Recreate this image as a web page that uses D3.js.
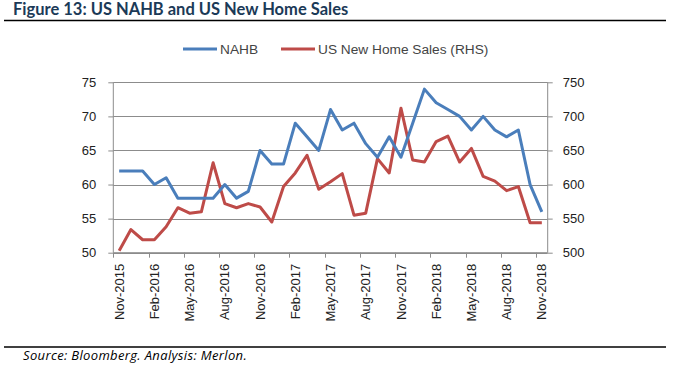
<!DOCTYPE html>
<html>
<head>
<meta charset="utf-8">
<script src="https://cdn.jsdelivr.net/npm/d3@7"></script>
<style>
	body { margin: 0; background: #fff; }
	svg { display: block; }
	.tick text { font-family: "Liberation Sans", Arial, sans-serif; font-size: 13px; fill: #222; }
</style>
</head>
<body>
<svg id="chart"></svg>
<script>
const width = 683;
const height = 370;

// Monthly categories, Nov-2015 .. Nov-2018
const months = ["Nov-2015", "Dec-2015", "Jan-2016", "Feb-2016", "Mar-2016", "Apr-2016", "May-2016", "Jun-2016", "Jul-2016",
	"Aug-2016", "Sep-2016", "Oct-2016", "Nov-2016", "Dec-2016", "Jan-2017", "Feb-2017", "Mar-2017", "Apr-2017",
	"May-2017", "Jun-2017", "Jul-2017", "Aug-2017", "Sep-2017", "Oct-2017", "Nov-2017", "Dec-2017", "Jan-2018",
	"Feb-2018", "Mar-2018", "Apr-2018", "May-2018", "Jun-2018", "Jul-2018", "Aug-2018", "Sep-2018", "Oct-2018", "Nov-2018"];

const nahb = [62, 62, 62, 60, 61, 58, 58, 58, 58, 60, 58, 59, 65, 63, 63, 69, 67, 65, 71, 68, 69, 66, 64, 67, 64,
	69, 74, 72, 71, 70, 68, 70, 68, 67, 68, 60, 56];

const newHomeSales = [503, 534, 519, 519, 538, 566, 558, 560, 632, 572, 566, 572, 567, 545, 597, 617, 643, 593, 604,
	616, 555, 558, 638, 617, 712, 636, 633, 663, 671, 633, 653, 612, 605, 591, 597, 544, 544];

const leftTicks = [50, 55, 60, 65, 70, 75];
const rightTicks = [500, 550, 600, 650, 700, 750];

const seriesNames = ["NAHB", "US New Home Sales (RHS)"];
const colors = ["#4a7ebb", "#be4b48"];

const plot = { left: 113.3, right: 547.7, top: 82.3, bottom: 252.7 };

const svg = d3.select("#chart").attr("width", width).attr("height", height);

const x = d3.scaleBand().domain(months).range([plot.left, plot.right]).padding(0);
const yL = d3.scaleLinear().domain([50, 75]).range([plot.bottom, plot.top]);
const yR = d3.scaleLinear().domain([500, 750]).range([plot.bottom, plot.top]);
const cx = (m) => x(m) + x.bandwidth() / 2;

// Title and rules
svg.append("text")
	.attr("x", 13)
	.attr("y", 15)
	.attr("font-family", "Lato, 'Open Sans', sans-serif")
	.attr("font-weight", "bold")
	.attr("font-size", 16.5)
	.attr("fill", "#1b3a57")
	.text("Figure 13: US NAHB and US New Home Sales");

svg.append("line").attr("x1", 4).attr("x2", 666).attr("y1", 20.5).attr("y2", 20.5)
	.attr("stroke", "#000").attr("stroke-width", 1.3);
svg.append("line").attr("x1", 4).attr("x2", 666).attr("y1", 347).attr("y2", 347)
	.attr("stroke", "#000").attr("stroke-width", 1.3);

svg.append("text")
	.attr("x", 23)
	.attr("y", 360)
	.attr("font-family", "'Open Sans', Lato, sans-serif")
	.attr("font-style", "italic")
	.attr("font-size", 13)
	.attr("letter-spacing", 0.35)
	.attr("fill", "#000")
	.text("Source: Bloomberg. Analysis: Merlon.");

// Gridlines
svg.append("g")
	.selectAll("line")
	.data(leftTicks)
	.join("line")
	.attr("x1", plot.left)
	.attr("x2", plot.right)
	.attr("y1", (d) => Math.round(yL(d)) + 0.5)
	.attr("y2", (d) => Math.round(yL(d)) + 0.5)
	.attr("stroke", "#8c8c8c");

// Y axes
const axisL = svg.append("g")
	.attr("transform", `translate(${plot.left},0)`)
	.call(d3.axisLeft(yL).tickValues(leftTicks).tickSize(5).tickPadding(12));
const axisR = svg.append("g")
	.attr("transform", `translate(${plot.right},0)`)
	.call(d3.axisRight(yR).tickValues(rightTicks).tickSize(5).tickPadding(10));
[axisL, axisR].forEach((a) => {
	a.select(".domain").attr("stroke", "#8c8c8c").attr("d", `M0,${plot.top}V${plot.bottom}`);
	a.selectAll(".tick line").attr("stroke", "#8c8c8c");
});

// X axis: ticks at category boundaries every 3 months, labels centred
const shown = months.filter((m, i) => i % 3 === 0);
const xAxis = svg.append("g");
xAxis.append("line")
	.attr("x1", plot.left).attr("x2", plot.right)
	.attr("y1", plot.bottom).attr("y2", plot.bottom)
	.attr("stroke", "#8c8c8c");
xAxis.selectAll(".xtick")
	.data(shown)
	.join("line")
	.attr("class", "xtick")
	.attr("x1", (d) => Math.round(x(d)) + 0.5)
	.attr("x2", (d) => Math.round(x(d)) + 0.5)
	.attr("y1", plot.bottom)
	.attr("y2", plot.bottom + 5)
	.attr("stroke", "#8c8c8c");
xAxis.selectAll(".xlabel")
	.data(shown)
	.join("text")
	.attr("class", "xlabel")
	.attr("transform", (d) => `translate(${cx(d)},${plot.bottom + 11}) rotate(-90)`)
	.attr("text-anchor", "end")
	.attr("dy", "0.35em")
	.attr("font-family", "'Liberation Sans', Arial, sans-serif")
	.attr("font-size", 13)
	.attr("fill", "#222")
	.text((d) => d);

// Lines
const lineL = d3.line().x((d, i) => cx(months[i])).y((d) => yL(d));
const lineR = d3.line().x((d, i) => cx(months[i])).y((d) => yR(d));

svg.append("path")
	.datum(newHomeSales)
	.attr("d", lineR)
	.attr("fill", "none")
	.attr("stroke", colors[1])
	.attr("stroke-width", 3)
	.attr("stroke-linejoin", "round");

svg.append("path")
	.datum(nahb)
	.attr("d", lineL)
	.attr("fill", "none")
	.attr("stroke", colors[0])
	.attr("stroke-width", 3)
	.attr("stroke-linejoin", "round");

// Legend
const legendItems = [
	{ name: seriesNames[0], color: colors[0], x: 183 },
	{ name: seriesNames[1], color: colors[1], x: 281 },
];
const legend = svg.append("g").attr("transform", "translate(0,49)");
legendItems.forEach((d) => {
	legend.append("line")
		.attr("x1", d.x).attr("x2", d.x + 34)
		.attr("stroke", d.color).attr("stroke-width", 3);
	legend.append("text")
		.attr("x", d.x + 37)
		.attr("dy", "0.36em")
		.attr("font-family", "'Liberation Sans', Arial, sans-serif")
		.attr("font-size", 13.7)
		.attr("fill", "#444")
		.text(d.name);
});
</script>
</body>
</html>
